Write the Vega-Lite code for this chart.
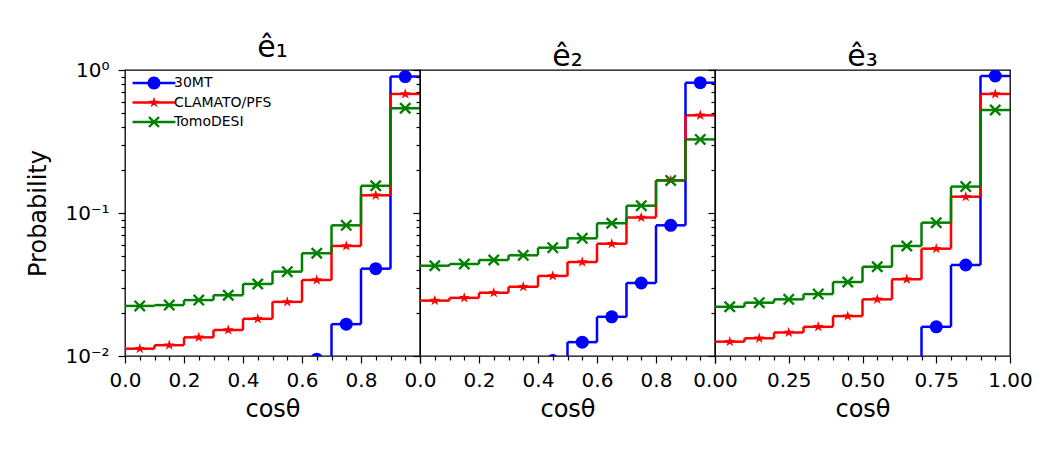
{
  "$schema": "https://vega.github.io/schema/vega-lite/v6.json",
  "padding": {"left": 26, "top": 32, "right": 5, "bottom": 5},
  "spacing": 0,
  "bounds": "flush",
  "config": {
    "font": "DejaVu Sans",
    "view": {"stroke": "black", "strokeWidth": 1.3},
    "axis": {"grid": false, "domain": false, "tickColor": "black", "labelColor": "black", "titleColor": "black", "labelFontSize": 20, "titleFontSize": 24, "titleFontWeight": "normal", "tickWidth": 1.2, "labelFont": "DejaVu Sans", "titleFont": "DejaVu Sans", "labelFlush": false, "labelOverlap": false},
    "title": {"fontSize": 30, "fontWeight": "normal", "font": "DejaVu Sans", "color": "black", "offset": -3}
  },
  "datasets": {
    "h": [
      {"g": "e1", "s": "30MT", "lo": 0.6, "c": 0.65, "hi": 0.7, "p": 0.0095},
      {"g": "e1", "s": "30MT", "lo": 0.7, "c": 0.75, "hi": 0.8, "p": 0.0167},
      {"g": "e1", "s": "30MT", "lo": 0.8, "c": 0.85, "hi": 0.9, "p": 0.0408},
      {"g": "e1", "s": "30MT", "lo": 0.9, "c": 0.95, "hi": 1.0, "p": 0.90},
      {"g": "e1", "s": "CLAMATO/PFS", "lo": 0.0, "c": 0.05, "hi": 0.1, "p": 0.01125},
      {"g": "e1", "s": "CLAMATO/PFS", "lo": 0.1, "c": 0.15, "hi": 0.2, "p": 0.0119},
      {"g": "e1", "s": "CLAMATO/PFS", "lo": 0.2, "c": 0.25, "hi": 0.3, "p": 0.0135},
      {"g": "e1", "s": "CLAMATO/PFS", "lo": 0.3, "c": 0.35, "hi": 0.4, "p": 0.0152},
      {"g": "e1", "s": "CLAMATO/PFS", "lo": 0.4, "c": 0.45, "hi": 0.5, "p": 0.0182},
      {"g": "e1", "s": "CLAMATO/PFS", "lo": 0.5, "c": 0.55, "hi": 0.6, "p": 0.0239},
      {"g": "e1", "s": "CLAMATO/PFS", "lo": 0.6, "c": 0.65, "hi": 0.7, "p": 0.034},
      {"g": "e1", "s": "CLAMATO/PFS", "lo": 0.7, "c": 0.75, "hi": 0.8, "p": 0.0588},
      {"g": "e1", "s": "CLAMATO/PFS", "lo": 0.8, "c": 0.85, "hi": 0.9, "p": 0.133},
      {"g": "e1", "s": "CLAMATO/PFS", "lo": 0.9, "c": 0.95, "hi": 1.0, "p": 0.68},
      {"g": "e1", "s": "TomoDESI", "lo": 0.0, "c": 0.05, "hi": 0.1, "p": 0.0224},
      {"g": "e1", "s": "TomoDESI", "lo": 0.1, "c": 0.15, "hi": 0.2, "p": 0.0227},
      {"g": "e1", "s": "TomoDESI", "lo": 0.2, "c": 0.25, "hi": 0.3, "p": 0.0246},
      {"g": "e1", "s": "TomoDESI", "lo": 0.3, "c": 0.35, "hi": 0.4, "p": 0.0266},
      {"g": "e1", "s": "TomoDESI", "lo": 0.4, "c": 0.45, "hi": 0.5, "p": 0.0319},
      {"g": "e1", "s": "TomoDESI", "lo": 0.5, "c": 0.55, "hi": 0.6, "p": 0.0389},
      {"g": "e1", "s": "TomoDESI", "lo": 0.6, "c": 0.65, "hi": 0.7, "p": 0.0523},
      {"g": "e1", "s": "TomoDESI", "lo": 0.7, "c": 0.75, "hi": 0.8, "p": 0.082},
      {"g": "e1", "s": "TomoDESI", "lo": 0.8, "c": 0.85, "hi": 0.9, "p": 0.155},
      {"g": "e1", "s": "TomoDESI", "lo": 0.9, "c": 0.95, "hi": 1.0, "p": 0.54},

      {"g": "e2", "s": "30MT", "lo": 0.4, "c": 0.45, "hi": 0.5, "p": 0.0093},
      {"g": "e2", "s": "30MT", "lo": 0.5, "c": 0.55, "hi": 0.6, "p": 0.0125},
      {"g": "e2", "s": "30MT", "lo": 0.6, "c": 0.65, "hi": 0.7, "p": 0.0188},
      {"g": "e2", "s": "30MT", "lo": 0.7, "c": 0.75, "hi": 0.8, "p": 0.0324},
      {"g": "e2", "s": "30MT", "lo": 0.8, "c": 0.85, "hi": 0.9, "p": 0.082},
      {"g": "e2", "s": "30MT", "lo": 0.9, "c": 0.95, "hi": 1.0, "p": 0.815},
      {"g": "e2", "s": "CLAMATO/PFS", "lo": 0.0, "c": 0.05, "hi": 0.1, "p": 0.0244},
      {"g": "e2", "s": "CLAMATO/PFS", "lo": 0.1, "c": 0.15, "hi": 0.2, "p": 0.0255},
      {"g": "e2", "s": "CLAMATO/PFS", "lo": 0.2, "c": 0.25, "hi": 0.3, "p": 0.0277},
      {"g": "e2", "s": "CLAMATO/PFS", "lo": 0.3, "c": 0.35, "hi": 0.4, "p": 0.0305},
      {"g": "e2", "s": "CLAMATO/PFS", "lo": 0.4, "c": 0.45, "hi": 0.5, "p": 0.0363},
      {"g": "e2", "s": "CLAMATO/PFS", "lo": 0.5, "c": 0.55, "hi": 0.6, "p": 0.0454},
      {"g": "e2", "s": "CLAMATO/PFS", "lo": 0.6, "c": 0.65, "hi": 0.7, "p": 0.061},
      {"g": "e2", "s": "CLAMATO/PFS", "lo": 0.7, "c": 0.75, "hi": 0.8, "p": 0.093},
      {"g": "e2", "s": "CLAMATO/PFS", "lo": 0.8, "c": 0.85, "hi": 0.9, "p": 0.169},
      {"g": "e2", "s": "CLAMATO/PFS", "lo": 0.9, "c": 0.95, "hi": 1.0, "p": 0.482},
      {"g": "e2", "s": "TomoDESI", "lo": 0.0, "c": 0.05, "hi": 0.1, "p": 0.0428},
      {"g": "e2", "s": "TomoDESI", "lo": 0.1, "c": 0.15, "hi": 0.2, "p": 0.044},
      {"g": "e2", "s": "TomoDESI", "lo": 0.2, "c": 0.25, "hi": 0.3, "p": 0.0469},
      {"g": "e2", "s": "TomoDESI", "lo": 0.3, "c": 0.35, "hi": 0.4, "p": 0.0506},
      {"g": "e2", "s": "TomoDESI", "lo": 0.4, "c": 0.45, "hi": 0.5, "p": 0.0572},
      {"g": "e2", "s": "TomoDESI", "lo": 0.5, "c": 0.55, "hi": 0.6, "p": 0.0665},
      {"g": "e2", "s": "TomoDESI", "lo": 0.6, "c": 0.65, "hi": 0.7, "p": 0.0848},
      {"g": "e2", "s": "TomoDESI", "lo": 0.7, "c": 0.75, "hi": 0.8, "p": 0.1125},
      {"g": "e2", "s": "TomoDESI", "lo": 0.8, "c": 0.85, "hi": 0.9, "p": 0.169},
      {"g": "e2", "s": "TomoDESI", "lo": 0.9, "c": 0.95, "hi": 1.0, "p": 0.327},

      {"g": "e3", "s": "30MT", "lo": 0.6, "c": 0.65, "hi": 0.7, "p": 0.008},
      {"g": "e3", "s": "30MT", "lo": 0.7, "c": 0.75, "hi": 0.8, "p": 0.016},
      {"g": "e3", "s": "30MT", "lo": 0.8, "c": 0.85, "hi": 0.9, "p": 0.0433},
      {"g": "e3", "s": "30MT", "lo": 0.9, "c": 0.95, "hi": 1.0, "p": 0.908},
      {"g": "e3", "s": "CLAMATO/PFS", "lo": 0.0, "c": 0.05, "hi": 0.1, "p": 0.0126},
      {"g": "e3", "s": "CLAMATO/PFS", "lo": 0.1, "c": 0.15, "hi": 0.2, "p": 0.0133},
      {"g": "e3", "s": "CLAMATO/PFS", "lo": 0.2, "c": 0.25, "hi": 0.3, "p": 0.0146},
      {"g": "e3", "s": "CLAMATO/PFS", "lo": 0.3, "c": 0.35, "hi": 0.4, "p": 0.016},
      {"g": "e3", "s": "CLAMATO/PFS", "lo": 0.4, "c": 0.45, "hi": 0.5, "p": 0.019},
      {"g": "e3", "s": "CLAMATO/PFS", "lo": 0.5, "c": 0.55, "hi": 0.6, "p": 0.0249},
      {"g": "e3", "s": "CLAMATO/PFS", "lo": 0.6, "c": 0.65, "hi": 0.7, "p": 0.0344},
      {"g": "e3", "s": "CLAMATO/PFS", "lo": 0.7, "c": 0.75, "hi": 0.8, "p": 0.0563},
      {"g": "e3", "s": "CLAMATO/PFS", "lo": 0.8, "c": 0.85, "hi": 0.9, "p": 0.130},
      {"g": "e3", "s": "CLAMATO/PFS", "lo": 0.9, "c": 0.95, "hi": 1.0, "p": 0.68},
      {"g": "e3", "s": "TomoDESI", "lo": 0.0, "c": 0.05, "hi": 0.1, "p": 0.0221},
      {"g": "e3", "s": "TomoDESI", "lo": 0.1, "c": 0.15, "hi": 0.2, "p": 0.0236},
      {"g": "e3", "s": "TomoDESI", "lo": 0.2, "c": 0.25, "hi": 0.3, "p": 0.0249},
      {"g": "e3", "s": "TomoDESI", "lo": 0.3, "c": 0.35, "hi": 0.4, "p": 0.0271},
      {"g": "e3", "s": "TomoDESI", "lo": 0.4, "c": 0.45, "hi": 0.5, "p": 0.0329},
      {"g": "e3", "s": "TomoDESI", "lo": 0.5, "c": 0.55, "hi": 0.6, "p": 0.0421},
      {"g": "e3", "s": "TomoDESI", "lo": 0.6, "c": 0.65, "hi": 0.7, "p": 0.0588},
      {"g": "e3", "s": "TomoDESI", "lo": 0.7, "c": 0.75, "hi": 0.8, "p": 0.0856},
      {"g": "e3", "s": "TomoDESI", "lo": 0.8, "c": 0.85, "hi": 0.9, "p": 0.153},
      {"g": "e3", "s": "TomoDESI", "lo": 0.9, "c": 0.95, "hi": 1.0, "p": 0.525}
    ]
  },
  "resolve": {"legend": {"color": "independent"}},
  "hconcat": [
    {
      "width": 295, "height": 286,
      "title": {"text": "ê₁"},
      "data": {"name": "h"},
      "transform": [{"filter": "datum.g === 'e1'"}],
      "encoding": {
        "x": {"field": "lo", "type": "quantitative", "scale": {"domain": [0, 1], "nice": false, "zero": false},
          "axis": {"title": "cosθ", "values": [0,0.05,0.1,0.15,0.2,0.25,0.3,0.35,0.4,0.45,0.5,0.55,0.6,0.65,0.7,0.75,0.8,0.85,0.9,0.95,1],
            "labelExpr": "abs(datum.value*5 - round(datum.value*5)) < 1e-6 && datum.value < 0.99 ? format(datum.value, '.1f') : ''",
            "tickSize": {"condition": {"test": "abs(datum.value*5 - round(datum.value*5)) < 1e-6", "value": 7}, "value": 4},
            "labelPadding": 7, "titlePadding": 7}},
        "y": {"field": "p", "type": "quantitative", "scale": {"type": "log", "domain": [0.01, 1], "nice": false},
          "axis": {"title": "Probability", "values": [0.01,0.02,0.03,0.04,0.05,0.06,0.07,0.08,0.09,0.1,0.2,0.3,0.4,0.5,0.6,0.7,0.8,0.9,1],
            "labelExpr": "datum.value == 1 ? '10⁰' : datum.value == 0.1 ? '10⁻¹' : datum.value == 0.01 ? '10⁻²' : ''",
            "tickSize": {"condition": {"test": "datum.value == 1 || datum.value == 0.1 || datum.value == 0.01", "value": 7}, "value": 4},
            "labelPadding": 9, "titlePadding": 14}}
      },
      "layer": [
        {"mark": {"type": "rule", "strokeWidth": 2.5, "clip": true},
         "encoding": {"x2": {"field": "hi"},
           "color": {"field": "s", "type": "nominal", "scale": {"domain": ["30MT", "CLAMATO/PFS", "TomoDESI"], "range": ["#0000ff", "#ff0000", "#008000"]},
             "legend": {"orient": "none", "legendX": 22, "legendY": 6, "title": null, "labelFontSize": 14, "labelFont": "DejaVu Sans", "labelColor": "black", "symbolSize": 169, "labelOffset": 13, "rowPadding": 5.5, "padding": 0, "symbolType": "circle",
               "encode": {"symbols": {
                 "enter": {
                   "shape": {"signal": "datum.value === '30MT' ? 'M-3.3,-0.19L3.3,-0.19L3.3,0.19L-3.3,0.19ZM1,0A1,1,0,1,1,-1,0A1,1,0,1,1,1,0Z' : datum.value === 'CLAMATO/PFS' ? 'M-3.3,-0.19L3.3,-0.19L3.3,0.19L-3.3,0.19ZM0,-0.9L0.202,-0.278L0.856,-0.278L0.327,0.106L0.529,0.728L0,0.344L-0.529,0.728L-0.327,0.106L-0.856,-0.278L-0.202,-0.278Z' : 'M-3.3,-0.19L3.3,-0.19L3.3,0.19L-3.3,0.19ZM-0.648,-0.9L0,-0.252L0.648,-0.9L0.9,-0.648L0.252,0L0.9,0.648L0.648,0.9L0,0.252L-0.648,0.9L-0.9,0.648L-0.252,0L-0.9,-0.648Z'"},
                   "fill": {"scale": "color", "field": "value"},
                   "strokeWidth": {"value": 0}},
                 "update": {
                   "shape": {"signal": "datum.value === '30MT' ? 'M-3.3,-0.19L3.3,-0.19L3.3,0.19L-3.3,0.19ZM1,0A1,1,0,1,1,-1,0A1,1,0,1,1,1,0Z' : datum.value === 'CLAMATO/PFS' ? 'M-3.3,-0.19L3.3,-0.19L3.3,0.19L-3.3,0.19ZM0,-0.9L0.202,-0.278L0.856,-0.278L0.327,0.106L0.529,0.728L0,0.344L-0.529,0.728L-0.327,0.106L-0.856,-0.278L-0.202,-0.278Z' : 'M-3.3,-0.19L3.3,-0.19L3.3,0.19L-3.3,0.19ZM-0.648,-0.9L0,-0.252L0.648,-0.9L0.9,-0.648L0.252,0L0.9,0.648L0.648,0.9L0,0.252L-0.648,0.9L-0.9,0.648L-0.252,0L-0.9,-0.648Z'"},
                   "fill": {"scale": "color", "field": "value"},
                   "strokeWidth": {"value": 0},
                   "opacity": {"value": 1}}}}}}}},
        {"transform": [{"window": [{"op": "lag", "field": "p", "as": "prev"}], "groupby": ["s"], "sort": [{"field": "lo"}]}, {"filter": "datum.prev != null"}],
         "mark": {"type": "rule", "strokeWidth": 2.5, "clip": true},
         "encoding": {"y2": {"field": "prev"}, "color": {"field": "s", "type": "nominal", "legend": null}}},
        {"transform": [{"filter": "datum.s === '30MT'"}],
         "mark": {"type": "point", "filled": true, "opacity": 1, "clip": true, "shape": "circle", "size": 169},
         "encoding": {"x": {"field": "c", "type": "quantitative"}, "color": {"field": "s", "type": "nominal", "legend": null}}},
        {"transform": [{"filter": "datum.s === 'CLAMATO/PFS'"}],
         "mark": {"type": "point", "filled": true, "opacity": 1, "clip": true, "size": 130, "shape": "M0,-1L0.2245,-0.309L0.951,-0.309L0.3633,0.118L0.588,0.809L0,0.382L-0.588,0.809L-0.3633,0.118L-0.951,-0.309L-0.2245,-0.309Z"},
         "encoding": {"x": {"field": "c", "type": "quantitative"}, "color": {"field": "s", "type": "nominal", "legend": null}}},
        {"transform": [{"filter": "datum.s === 'TomoDESI'"}],
         "mark": {"type": "point", "filled": true, "opacity": 1, "clip": true, "size": 144, "shape": "M-0.72,-1L0,-0.28L0.72,-1L1,-0.72L0.28,0L1,0.72L0.72,1L0,0.28L-0.72,1L-1,0.72L-0.28,0L-1,-0.72Z"},
         "encoding": {"x": {"field": "c", "type": "quantitative"}, "color": {"field": "s", "type": "nominal", "legend": null}}},
        {"data": {"values": [{}]}, "mark": {"type": "rule", "strokeWidth": 2.5, "strokeDash": [9, 4], "color": "black"},
         "encoding": {"y": {"datum": 0.1}, "x": null}}
      ]
    },
    {
      "width": 295, "height": 286,
      "title": {"text": "ê₂"},
      "data": {"name": "h"},
      "transform": [{"filter": "datum.g === 'e2'"}],
      "encoding": {
        "x": {"field": "lo", "type": "quantitative", "scale": {"domain": [0, 1], "nice": false, "zero": false},
          "axis": {"title": "cosθ", "values": [0,0.05,0.1,0.15,0.2,0.25,0.3,0.35,0.4,0.45,0.5,0.55,0.6,0.65,0.7,0.75,0.8,0.85,0.9,0.95,1],
            "labelExpr": "abs(datum.value*5 - round(datum.value*5)) < 1e-6 && datum.value < 0.99 ? format(datum.value, '.1f') : ''",
            "tickSize": {"condition": {"test": "abs(datum.value*5 - round(datum.value*5)) < 1e-6", "value": 7}, "value": 4},
            "labelPadding": 7, "titlePadding": 7}},
        "y": {"field": "p", "type": "quantitative", "scale": {"type": "log", "domain": [0.01, 1], "nice": false},
          "axis": {"title": null, "labels": false, "values": [0.01,0.02,0.03,0.04,0.05,0.06,0.07,0.08,0.09,0.1,0.2,0.3,0.4,0.5,0.6,0.7,0.8,0.9,1],
            "tickSize": {"condition": {"test": "datum.value == 1 || datum.value == 0.1 || datum.value == 0.01", "value": 7}, "value": 4}}}
      },
      "layer": [
        {"mark": {"type": "rule", "strokeWidth": 2.5, "clip": true},
         "encoding": {"x2": {"field": "hi"}, "color": {"field": "s", "type": "nominal", "legend": null}}},
        {"transform": [{"window": [{"op": "lag", "field": "p", "as": "prev"}], "groupby": ["s"], "sort": [{"field": "lo"}]}, {"filter": "datum.prev != null"}],
         "mark": {"type": "rule", "strokeWidth": 2.5, "clip": true},
         "encoding": {"y2": {"field": "prev"}, "color": {"field": "s", "type": "nominal", "legend": null}}},
        {"transform": [{"filter": "datum.s === '30MT'"}],
         "mark": {"type": "point", "filled": true, "opacity": 1, "clip": true, "shape": "circle", "size": 169},
         "encoding": {"x": {"field": "c", "type": "quantitative"}, "color": {"field": "s", "type": "nominal", "legend": null}}},
        {"transform": [{"filter": "datum.s === 'CLAMATO/PFS'"}],
         "mark": {"type": "point", "filled": true, "opacity": 1, "clip": true, "size": 130, "shape": "M0,-1L0.2245,-0.309L0.951,-0.309L0.3633,0.118L0.588,0.809L0,0.382L-0.588,0.809L-0.3633,0.118L-0.951,-0.309L-0.2245,-0.309Z"},
         "encoding": {"x": {"field": "c", "type": "quantitative"}, "color": {"field": "s", "type": "nominal", "legend": null}}},
        {"transform": [{"filter": "datum.s === 'TomoDESI'"}],
         "mark": {"type": "point", "filled": true, "opacity": 1, "clip": true, "size": 144, "shape": "M-0.72,-1L0,-0.28L0.72,-1L1,-0.72L0.28,0L1,0.72L0.72,1L0,0.28L-0.72,1L-1,0.72L-0.28,0L-1,-0.72Z"},
         "encoding": {"x": {"field": "c", "type": "quantitative"}, "color": {"field": "s", "type": "nominal", "legend": null}}},
        {"data": {"values": [{}]}, "mark": {"type": "rule", "strokeWidth": 2.5, "strokeDash": [9, 4], "color": "black"},
         "encoding": {"y": {"datum": 0.1}, "x": null}}
      ]
    },
    {
      "width": 295, "height": 286,
      "title": {"text": "ê₃"},
      "data": {"name": "h"},
      "transform": [{"filter": "datum.g === 'e3'"}],
      "encoding": {
        "x": {"field": "lo", "type": "quantitative", "scale": {"domain": [0, 1], "nice": false, "zero": false},
          "axis": {"title": "cosθ", "values": [0,0.05,0.1,0.15,0.2,0.25,0.3,0.35,0.4,0.45,0.5,0.55,0.6,0.65,0.7,0.75,0.8,0.85,0.9,0.95,1],
            "labelExpr": "abs(datum.value*4 - round(datum.value*4)) < 1e-6 ? format(datum.value, '.2f') : ''",
            "tickSize": {"condition": {"test": "abs(datum.value*4 - round(datum.value*4)) < 1e-6", "value": 7}, "value": 4},
            "labelPadding": 7, "titlePadding": 7}},
        "y": {"field": "p", "type": "quantitative", "scale": {"type": "log", "domain": [0.01, 1], "nice": false},
          "axis": {"title": null, "labels": false, "values": [0.01,0.02,0.03,0.04,0.05,0.06,0.07,0.08,0.09,0.1,0.2,0.3,0.4,0.5,0.6,0.7,0.8,0.9,1],
            "tickSize": {"condition": {"test": "datum.value == 1 || datum.value == 0.1 || datum.value == 0.01", "value": 7}, "value": 4}}}
      },
      "layer": [
        {"mark": {"type": "rule", "strokeWidth": 2.5, "clip": true},
         "encoding": {"x2": {"field": "hi"}, "color": {"field": "s", "type": "nominal", "legend": null}}},
        {"transform": [{"window": [{"op": "lag", "field": "p", "as": "prev"}], "groupby": ["s"], "sort": [{"field": "lo"}]}, {"filter": "datum.prev != null"}],
         "mark": {"type": "rule", "strokeWidth": 2.5, "clip": true},
         "encoding": {"y2": {"field": "prev"}, "color": {"field": "s", "type": "nominal", "legend": null}}},
        {"transform": [{"filter": "datum.s === '30MT'"}],
         "mark": {"type": "point", "filled": true, "opacity": 1, "clip": true, "shape": "circle", "size": 169},
         "encoding": {"x": {"field": "c", "type": "quantitative"}, "color": {"field": "s", "type": "nominal", "legend": null}}},
        {"transform": [{"filter": "datum.s === 'CLAMATO/PFS'"}],
         "mark": {"type": "point", "filled": true, "opacity": 1, "clip": true, "size": 130, "shape": "M0,-1L0.2245,-0.309L0.951,-0.309L0.3633,0.118L0.588,0.809L0,0.382L-0.588,0.809L-0.3633,0.118L-0.951,-0.309L-0.2245,-0.309Z"},
         "encoding": {"x": {"field": "c", "type": "quantitative"}, "color": {"field": "s", "type": "nominal", "legend": null}}},
        {"transform": [{"filter": "datum.s === 'TomoDESI'"}],
         "mark": {"type": "point", "filled": true, "opacity": 1, "clip": true, "size": 144, "shape": "M-0.72,-1L0,-0.28L0.72,-1L1,-0.72L0.28,0L1,0.72L0.72,1L0,0.28L-0.72,1L-1,0.72L-0.28,0L-1,-0.72Z"},
         "encoding": {"x": {"field": "c", "type": "quantitative"}, "color": {"field": "s", "type": "nominal", "legend": null}}},
        {"data": {"values": [{}]}, "mark": {"type": "rule", "strokeWidth": 2.5, "strokeDash": [9, 4], "color": "black"},
         "encoding": {"y": {"datum": 0.1}, "x": null}}
      ]
    }
  ]
}
